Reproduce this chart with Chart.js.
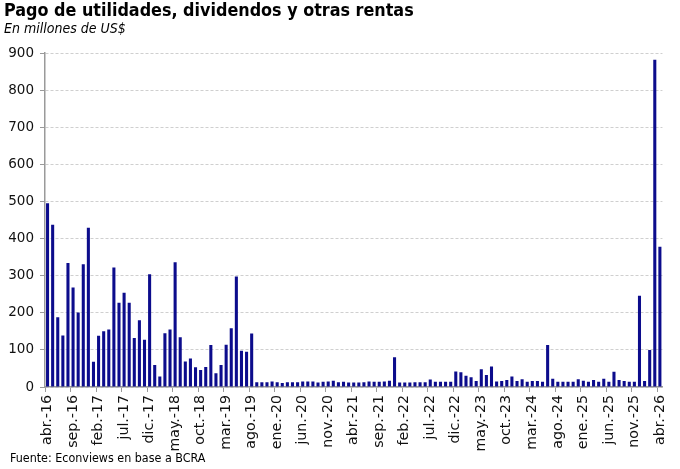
<!DOCTYPE html>
<html>
<head>
<meta charset="utf-8">
<script src="https://cdn.jsdelivr.net/npm/chart.js@4.4.1/dist/chart.umd.min.js"></script>
<style>
  html, body { margin: 0; padding: 0; background: #ffffff; }
  #wrap { position: relative; width: 680px; height: 469px; overflow: hidden; }
  #c { position: absolute; left: 0; top: 0; }
  .txt { position: absolute; white-space: nowrap; color: #000; font-family: "DejaVu Sans Condensed", "DejaVu Sans", sans-serif; transform-origin: 0 0; }
  #title { left: 4px; top: -1px; font-size: 17.8px; font-weight: bold; }
  #subtitle { left: 4px; top: 20px; font-size: 14px; font-style: italic; }
  #source { left: 10px; top: 450px; font-size: 12.4px; }
</style>
</head>
<body>
<div id="wrap">
  <canvas id="c" width="680" height="469"></canvas>
  <div class="txt" id="title">Pago de utilidades, dividendos y otras rentas</div>
  <div class="txt" id="subtitle">En millones de US$</div>
  <div class="txt" id="source">Fuente: Econviews en base a BCRA</div>
</div>
<script>
// Months from abr.-16 to abr.-26
const monthNames = ['ene.', 'feb.', 'mar.', 'abr.', 'may.', 'jun.', 'jul.', 'ago.', 'sep.', 'oct.', 'nov.', 'dic.'];
const categories = [];
for (let y = 16; y <= 26; y++) {
  for (let m = 0; m < 12; m++) {
    if (y === 16 && m < 3) continue;
    if (y === 26 && m > 3) continue;
    categories.push(monthNames[m] + '-' + y);
  }
}

// Pago de utilidades, dividendos y otras rentas (millones de US$)
const values = [
  495, 437, 188, 139, 334, 268, 201, 331, 429, 68,
  138, 150, 155, 322, 227, 254, 227, 132, 180, 127,
  304, 59, 28, 145, 155, 336, 134, 69, 77, 53,
  46, 54, 113, 37, 59, 114, 158, 298, 98, 95,
  144, 13, 13, 13, 15, 13, 11, 13, 13, 13,
  15, 15, 15, 12, 14, 15, 17, 13, 14, 12,
  12, 12, 13, 15, 14, 14, 15, 17, 80, 12,
  12, 12, 13, 13, 13, 20, 14, 14, 14, 14,
  42, 40, 30, 26, 16, 48, 32, 55, 15, 16,
  19, 28, 16, 21, 14, 16, 16, 14, 113, 22,
  14, 14, 14, 14, 21, 17, 14, 19, 14, 22,
  14, 41, 19, 16, 14, 14, 246, 16, 100, 882,
  378
];

const yTicks = [0, 100, 200, 300, 400, 500, 600, 700, 800, 900];
const labelEvery = 5;

new Chart(document.getElementById('c'), {
  type: 'bar',
  data: {
    labels: categories,
    datasets: [{
      data: values,
      backgroundColor: '#0c0c8c',
      borderWidth: 0,
      categoryPercentage: 1.0,
      barPercentage: 0.6
    }]
  },
  options: {
    responsive: false,
    animation: false,
    devicePixelRatio: 1,
    layout: { padding: { top: 53, right: 16, left: 0, bottom: 0 } },
    plugins: { legend: { display: false }, tooltip: { enabled: false } },
    scales: {
      x: {
        type: 'category',
        offset: true,
        afterFit: (s) => { s.height = 82; },
        grid: {
          offset: true,
          drawOnChartArea: false,
          drawTicks: true,
          tickLength: 5,
          tickColor: (ctx) => (ctx.index % labelEvery === 0 ? '#9a9a9a' : 'rgba(0,0,0,0)'),
          lineWidth: 1
        },
        border: { display: true, color: '#9a9a9a', width: 1.5 },
        ticks: {
          autoSkip: false,
          maxRotation: 90,
          minRotation: 90,
          padding: 3,
          color: '#111',
          font: { family: 'DejaVu Sans', size: 14.2 },
          callback: function (val, idx) { return idx % labelEvery === 0 ? categories[idx] : ''; }
        }
      },
      y: {
        min: 0,
        max: 900,
        afterFit: (s) => { s.width = 45; },
        afterBuildTicks: (s) => { s.ticks = yTicks.map(v => ({ value: v })); },
        grid: {
          color: '#cfcfcf',
          lineWidth: 1,
          drawTicks: true,
          tickLength: 5,
          tickColor: '#9a9a9a',
          tickBorderDash: []
        },
        border: { display: true, color: '#9a9a9a', width: 1.5, dash: [3, 2] },
        ticks: {
          padding: 6,
          color: '#111',
          font: { family: 'DejaVu Sans', size: 13.5 }
        }
      }
    }
  }
});
</script>
</body>
</html>
